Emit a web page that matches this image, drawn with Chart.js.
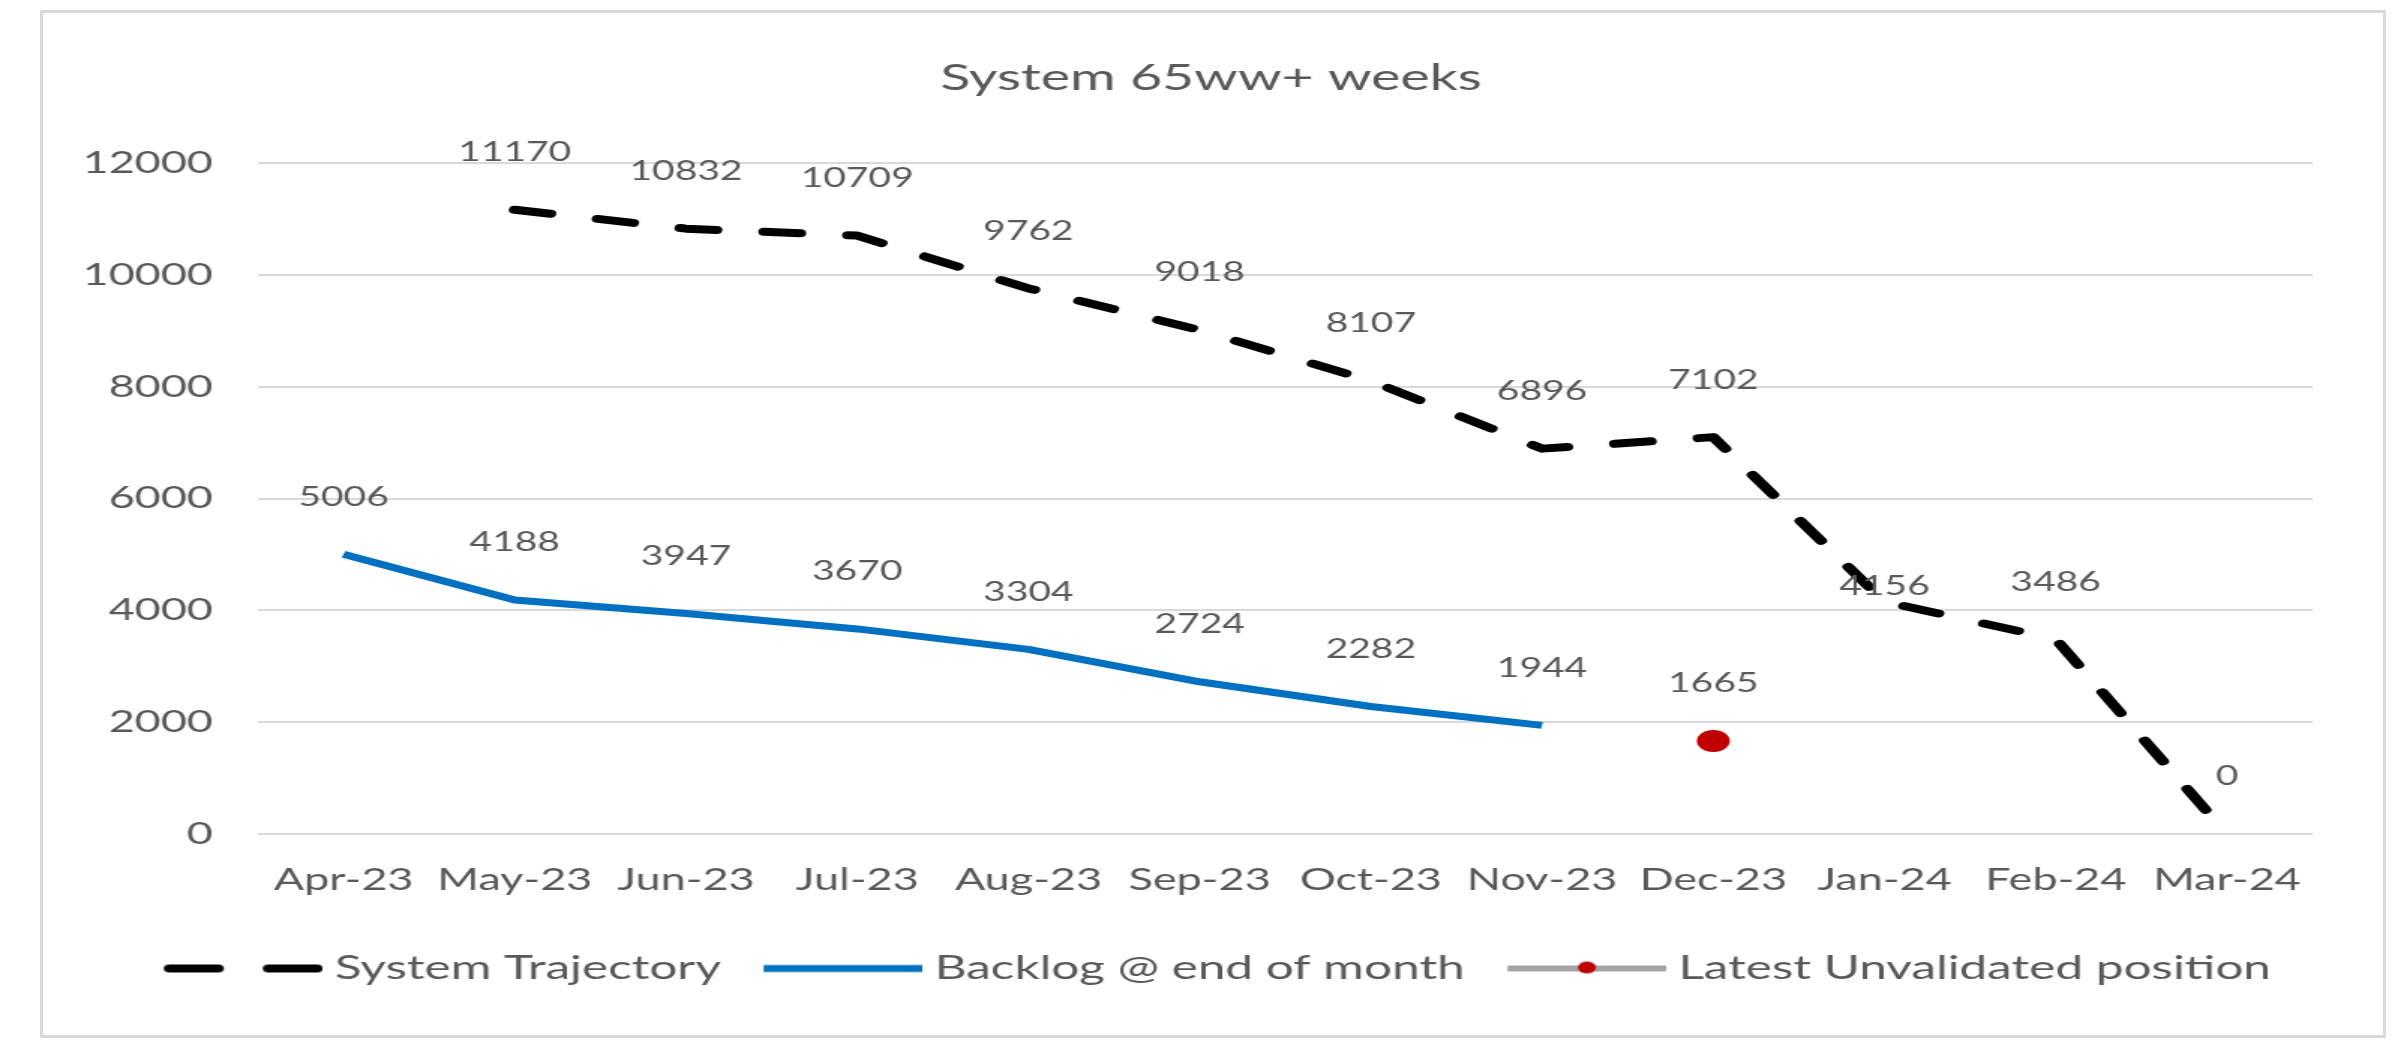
<!DOCTYPE html>
<html>
<head>
<meta charset="utf-8">
<script src="https://cdn.jsdelivr.net/npm/chart.js@4.4.1/dist/chart.umd.min.js"></script>
<style>
  html, body { margin: 0; padding: 0; background: #ffffff; }
  #wrap { position: relative; width: 2398px; height: 1042px; overflow: hidden; background: #ffffff; }
  #frame { position: absolute; left: 40px; top: 10px; width: 2346px; height: 1028px; border: 3px solid #D9D9D9; box-sizing: border-box; }
  #c { position: absolute; left: 0; top: 0; }
</style>
</head>
<body>
<div id="wrap">
  <div id="frame"></div>
  <canvas id="c" width="1599" height="1042" style="width:2398px;height:1042px;"></canvas>
</div>
<script>
// ---- data ----
const categories = ['Apr-23','May-23','Jun-23','Jul-23','Aug-23','Sep-23','Oct-23','Nov-23','Dec-23','Jan-24','Feb-24','Mar-24'];
const systemTrajectory = [null, 11170, 10832, 10709, 9762, 9018, 8107, 6896, 7102, 4156, 3486, 0];
const backlogEndOfMonth = [5006, 4188, 3947, 3670, 3304, 2724, 2282, 1944, null, null, null, null];
const latestUnvalidated = [null, null, null, null, null, null, null, null, 1665, null, null, null];
const yTickValues = [0, 2000, 4000, 6000, 8000, 10000, 12000];
const seriesNames = ['System Trajectory', 'Backlog @ end of month', 'Latest Unvalidated position'];
const chartTitle = 'System 65ww+ weeks';

// ---- styling ----
const TEXT = '#595959';
const FONT = 'Lato';
Chart.defaults.font.family = FONT;
Chart.defaults.color = TEXT;

// legend sample images (internal canvas pixels; page is stretched horizontally 1.5x)
const BOX_W = 106, SHIFT = 17;
function makeSample(kind) {
  const c = document.createElement('canvas');
  c.width = BOX_W + SHIFT; c.height = 18;
  const g = c.getContext('2d');
  const x0 = SHIFT, x1 = BOX_W + SHIFT;
  if (kind === 0) {
    g.lineCap = 'round';
    g.strokeStyle = '#000000'; g.lineWidth = 8;
    g.beginPath(); g.moveTo(x0 + 4, 9); g.lineTo(x0 + 36, 9); g.stroke();
    g.beginPath(); g.moveTo(x1 - 36, 9); g.lineTo(x1 - 4, 9); g.stroke();
  } else if (kind === 1) {
    g.strokeStyle = '#0070C0'; g.lineWidth = 7;
    g.beginPath(); g.moveTo(x0, 9); g.lineTo(x1, 9); g.stroke();
  } else {
    g.strokeStyle = '#A5A5A5'; g.lineWidth = 6;
    g.beginPath(); g.moveTo(x0, 9); g.lineTo(x1, 9); g.stroke();
    g.fillStyle = '#C00000';
    g.beginPath(); g.arc((x0 + x1) / 2, 8, 6, 0, Math.PI * 2); g.fill();
  }
  return c;
}
const samples = [makeSample(0), makeSample(1), makeSample(2)];

const labelOffset = { default: 57, special: { '0:9': 15 } };

const dataLabelPlugin = {
  id: 'dataLabels',
  afterDatasetsDraw(chart) {
    const ctx = chart.ctx;
    ctx.save();
    ctx.font = '26px ' + FONT;
    ctx.fillStyle = TEXT;
    ctx.textAlign = 'center';
    ctx.textBaseline = 'middle';
    chart.data.datasets.forEach((ds, di) => {
      const meta = chart.getDatasetMeta(di);
      ds.data.forEach((v, i) => {
        if (v === null || v === undefined) return;
        const el = meta.data[i];
        const off = labelOffset.special[di + ':' + i] ?? labelOffset.default;
        ctx.fillText(String(v), el.x, el.y - off);
      });
    });
    ctx.restore();
  }
};

new Chart(document.getElementById('c'), {
  type: 'line',
  data: {
    labels: categories,
    datasets: [
      {
        label: seriesNames[0],
        data: systemTrajectory,
        borderColor: '#000000',
        borderWidth: 8,
        borderDash: [24, 32],
        borderCapStyle: 'round',
        borderJoinStyle: 'round',
        pointRadius: 0,
        tension: 0,
        spanGaps: false
      },
      {
        label: seriesNames[1],
        data: backlogEndOfMonth,
        borderColor: '#0070C0',
        borderWidth: 7,
        borderCapStyle: 'butt',
        borderJoinStyle: 'round',
        pointRadius: 0,
        tension: 0
      },
      {
        label: seriesNames[2],
        data: latestUnvalidated,
        borderColor: '#A5A5A5',
        showLine: false,
        pointRadius: 11,
        pointBackgroundColor: '#C00000',
        pointBorderColor: '#C00000',
        pointBorderWidth: 0
      }
    ]
  },
  options: {
    responsive: false,
    animation: false,
    devicePixelRatio: 1,
    layout: { padding: { left: 52, right: 36, top: 0, bottom: 47 } },
    plugins: {
      title: {
        display: true,
        text: chartTitle,
        color: TEXT,
        font: { size: 37, weight: 'normal', family: FONT },
        padding: { top: 56, bottom: 63 }
      },
      legend: {
        display: true,
        position: 'bottom',
        labels: {
          usePointStyle: true,
          pointStyleWidth: BOX_W,
          padding: 20,
          color: TEXT,
          font: { size: 33, family: FONT },
          generateLabels(chart) {
            return chart.data.datasets.map((ds, i) => ({
              text: ds.label,
              pointStyle: samples[i],
              fillStyle: 'transparent',
              strokeStyle: 'transparent',
              lineWidth: 0,
              fontColor: TEXT,
              hidden: false,
              datasetIndex: i
            }));
          }
        }
      },
      tooltip: { enabled: false }
    },
    scales: {
      x: {
        offset: true,
        grid: { display: false, drawTicks: false },
        border: { display: false },
        ticks: { color: TEXT, font: { size: 30 }, padding: 28, maxRotation: 0, autoSkip: false },
        afterFit(scale) { scale.height = 98; }
      },
      y: {
        min: 0,
        max: 12000,
        afterBuildTicks(scale) { scale.ticks = yTickValues.map(v => ({ value: v })); },
        grid: { color: '#D9D9D9', lineWidth: 2, drawTicks: false },
        border: { display: false },
        ticks: { color: TEXT, font: { size: 30 }, padding: 30, callback: (v) => String(v) },
        afterFit(scale) { scale.width = 120; }
      },
      yRightSpacer: {
        type: 'linear',
        position: 'right',
        display: true,
        grid: { display: false, drawTicks: false },
        border: { display: false },
        ticks: { display: false },
        afterFit(scale) { scale.width = 21; }
      }
    }
  },
  plugins: [dataLabelPlugin]
});
</script>
</body>
</html>
